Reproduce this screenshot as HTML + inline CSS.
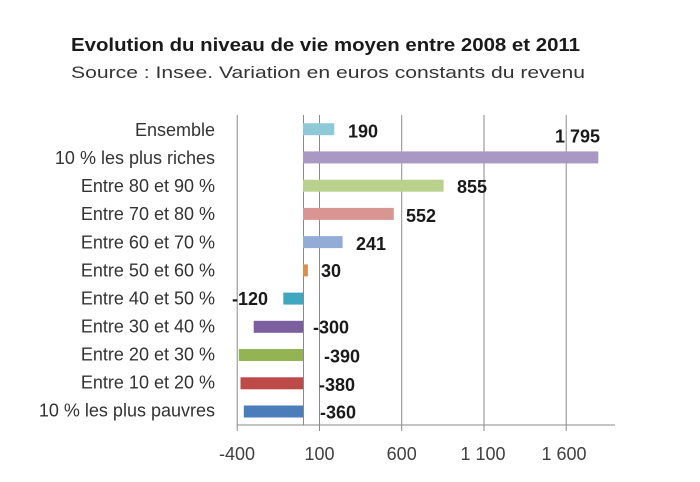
<!DOCTYPE html>
<html>
<head>
<meta charset="utf-8">
<style>
  html, body { margin:0; padding:0; background:#ffffff; }
  body { width:700px; height:482px; overflow:hidden; }
  svg { display:block; }
  .t { font-family:"Liberation Sans", sans-serif; }
</style>
</head>
<body>
<svg width="700" height="482" viewBox="0 0 700 482" xmlns="http://www.w3.org/2000/svg">
  <rect x="0" y="0" width="700" height="482" fill="#ffffff"/>

  <!-- Title -->
  <text class="t" x="71" y="51" font-size="18" font-weight="bold" fill="#1a1a1a" textLength="509" lengthAdjust="spacingAndGlyphs">Evolution du niveau de vie moyen entre 2008  et 2011</text>
  <text class="t" x="71" y="78" font-size="17" fill="#333333" textLength="514" lengthAdjust="spacingAndGlyphs">Source : Insee. Variation en euros constants du revenu</text>

  <!-- Gridlines -->
  <g stroke="#8a8a8a" stroke-width="1">
    <line x1="237.2" y1="115" x2="237.2" y2="431"/>
    <line x1="319.5" y1="115" x2="319.5" y2="431"/>
    <line x1="401.7" y1="115" x2="401.7" y2="431"/>
    <line x1="484" y1="115" x2="484" y2="431"/>
    <line x1="566.2" y1="115" x2="566.2" y2="431"/>
    <!-- zero (category) axis -->
    <line x1="303.5" y1="115" x2="303.5" y2="425"/>
    <!-- horizontal axis -->
    <line x1="237" y1="425" x2="615" y2="425"/>
  </g>

  <!-- Bars -->
  <rect x="303" y="123.2" width="31.3" height="12" fill="#8fc8d7"/>
  <rect x="303" y="151.4" width="295.3" height="12" fill="#a998c4"/>
  <rect x="303" y="179.7" width="140.6" height="12" fill="#bad18e"/>
  <rect x="303" y="207.9" width="90.8" height="12" fill="#d99592"/>
  <rect x="303" y="236.1" width="39.6" height="12" fill="#93acd6"/>
  <rect x="303" y="264.4" width="4.9" height="12" fill="#d98f4e"/>
  <rect x="283.3" y="292.6" width="19.7" height="12" fill="#3fa7c0"/>
  <rect x="253.7" y="320.8" width="49.3" height="12" fill="#7c5f9e"/>
  <rect x="238.8" y="349.0" width="64.2" height="12" fill="#93b453"/>
  <rect x="240.5" y="377.3" width="62.5" height="12" fill="#bd4a47"/>
  <rect x="243.8" y="405.5" width="59.2" height="12" fill="#4a7db9"/>

  <!-- Category labels -->
  <g class="t" font-size="18" fill="#333333" text-anchor="end">
    <text x="215" y="136">Ensemble</text>
    <text x="215" y="164.1">10 % les plus riches</text>
    <text x="215" y="192.1">Entre 80 et 90 %</text>
    <text x="215" y="220.2">Entre 70 et 80 %</text>
    <text x="215" y="248.3">Entre 60 et 70 %</text>
    <text x="215" y="276.4">Entre 50 et 60 %</text>
    <text x="215" y="304.4">Entre 40 et 50 %</text>
    <text x="215" y="332.5">Entre 30 et 40 %</text>
    <text x="215" y="360.6">Entre 20 et 30 %</text>
    <text x="215" y="388.6">Entre 10 et 20 %</text>
    <text x="215" y="416.7">10 % les plus pauvres</text>
  </g>

  <!-- Value labels -->
  <g class="t" font-size="18" font-weight="bold" fill="#1a1a1a">
    <text x="348" y="137.5">190</text>
    <text x="555" y="142.7">1 795</text>
    <text x="457" y="193">855</text>
    <text x="406" y="222">552</text>
    <text x="356" y="250">241</text>
    <text x="321" y="277">30</text>
    <text x="232" y="305">-120</text>
    <text x="313" y="333.3">-300</text>
    <text x="324" y="362.5">-390</text>
    <text x="319" y="391">-380</text>
    <text x="320" y="418.3">-360</text>
  </g>

  <!-- Tick labels -->
  <g class="t" font-size="18" fill="#404040" text-anchor="middle">
    <text x="237" y="460">-400</text>
    <text x="319.5" y="460">100</text>
    <text x="401.7" y="460">600</text>
    <text x="483" y="460">1 100</text>
    <text x="564" y="460">1 600</text>
  </g>
</svg>
</body>
</html>
